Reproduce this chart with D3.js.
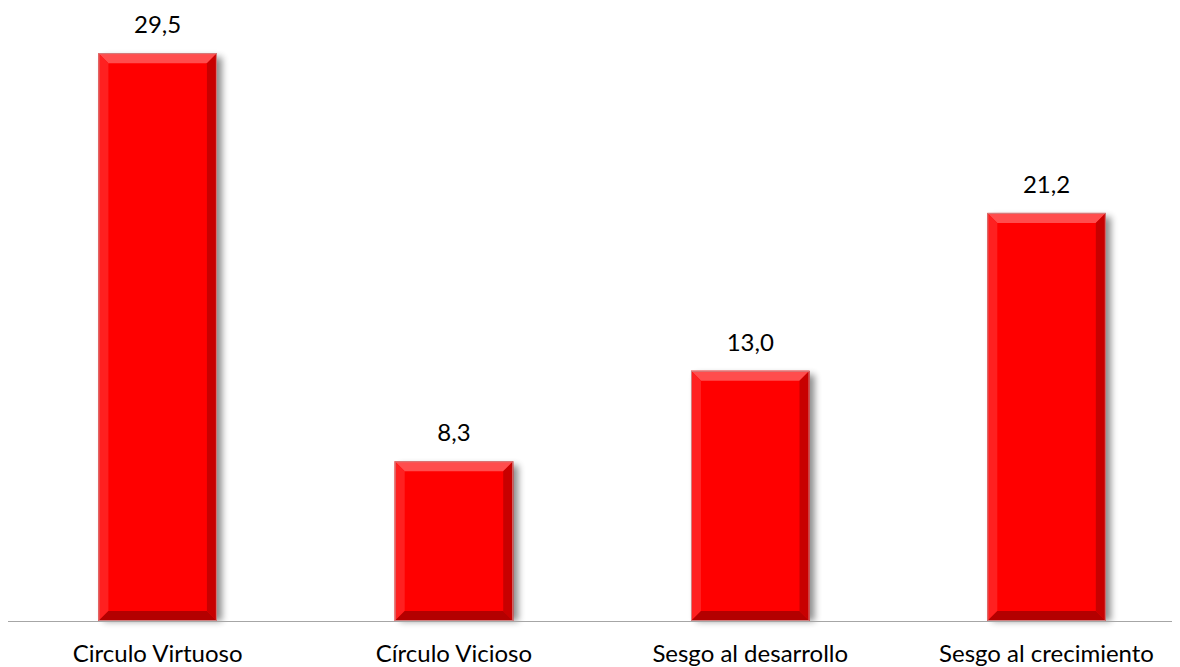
<!DOCTYPE html>
<html>
<head>
<meta charset="utf-8">
<script src="https://cdn.jsdelivr.net/npm/d3@7"></script>
<style>
  html, body { margin: 0; padding: 0; background: #ffffff; }
  svg { display: block; }
  text { font-family: Lato, "Open Sans", sans-serif; fill: #000; }
</style>
</head>
<body>
<svg id="chart" width="1180" height="667"></svg>
<script>
const categories = ["Circulo Virtuoso", "Círculo Vicioso", "Sesgo al desarrollo", "Sesgo al crecimiento"];
const values = [29.5, 8.3, 13.0, 21.2];
const valueLabels = ["29,5", "8,3", "13,0", "21,2"];

const W = 1180, H = 667;
const svg = d3.select("#chart");

const x = d3.scaleBand().domain(categories).range([9.5, 9.5 + 4 * 296.3]).paddingInner(0.6).paddingOuter(0.3);
const y = d3.scaleLinear().domain([0, 30]).range([621, 43.5]);

const defs = svg.append("defs");
const f = defs.append("filter").attr("id", "shadow").attr("x", "-20%").attr("y", "-5%").attr("width", "140%").attr("height", "115%");
f.append("feGaussianBlur").attr("stdDeviation", 3.5);

const g = svg.append("g");

// shadows
g.selectAll("rect.shadow").data(categories).join("rect")
  .attr("class", "shadow")
  .attr("x", d => x(d) + 5)
  .attr("y", (d, i) => y(values[i]) + 4)
  .attr("width", x.bandwidth())
  .attr("height", (d, i) => y(0) - y(values[i]) - 4)
  .attr("fill", "#000").attr("opacity", 0.45)
  .attr("filter", "url(#shadow)");

// axis line
svg.append("line").attr("x1", 8).attr("x2", 1172).attr("y1", y(0) + 0.5).attr("y2", y(0) + 0.5)
  .attr("stroke", "#a6a6a6").attr("stroke-width", 1.2);

const bev = 10;
const bars = g.selectAll("g.bar").data(categories).join("g").attr("class", "bar");
bars.each(function(d, i) {
  const el = d3.select(this);
  const x0 = x(d), x1 = x(d) + x.bandwidth();
  const y0 = y(values[i]), y1 = y(0);
  el.append("rect").attr("x", x0).attr("y", y0).attr("width", x1 - x0).attr("height", y1 - y0).attr("fill", "#ff0000");
  el.append("polygon").attr("points", [[x0, y0], [x1, y0], [x1 - bev, y0 + bev], [x0 + bev, y0 + bev]].join(" "))
    .attr("fill", "#ff4d4d");
  el.append("polygon").attr("points", [[x0, y0], [x0 + bev, y0 + bev], [x0 + bev, y1 - bev], [x0, y1]].join(" "))
    .attr("fill", "#ff2020");
  el.append("polygon").attr("points", [[x1, y0], [x1, y1], [x1 - bev, y1 - bev], [x1 - bev, y0 + bev]].join(" "))
    .attr("fill", "#c80000");
  el.append("polygon").attr("points", [[x0, y1], [x1, y1], [x1 - bev, y1 - bev], [x0 + bev, y1 - bev]].join(" "))
    .attr("fill", "#b40000");
  el.append("rect").attr("x", x0 + 0.5).attr("y", y0 + 0.5).attr("width", x1 - x0 - 1).attr("height", y1 - y0 - 1)
    .attr("fill", "none").attr("stroke", "#d08080").attr("stroke-width", 1);
});

// value labels
svg.selectAll("text.val").data(categories).join("text")
  .attr("class", "val")
  .attr("x", d => x(d) + x.bandwidth() / 2)
  .attr("y", (d, i) => y(values[i]) - 20)
  .attr("text-anchor", "middle")
  .attr("font-size", 24)
  .text((d, i) => valueLabels[i]);

// category labels
svg.selectAll("text.cat").data(categories).join("text")
  .attr("class", "cat")
  .attr("x", d => x(d) + x.bandwidth() / 2)
  .attr("y", 662)
  .attr("text-anchor", "middle")
  .attr("font-size", 24)
  .text(d => d);
</script>
</body>
</html>
